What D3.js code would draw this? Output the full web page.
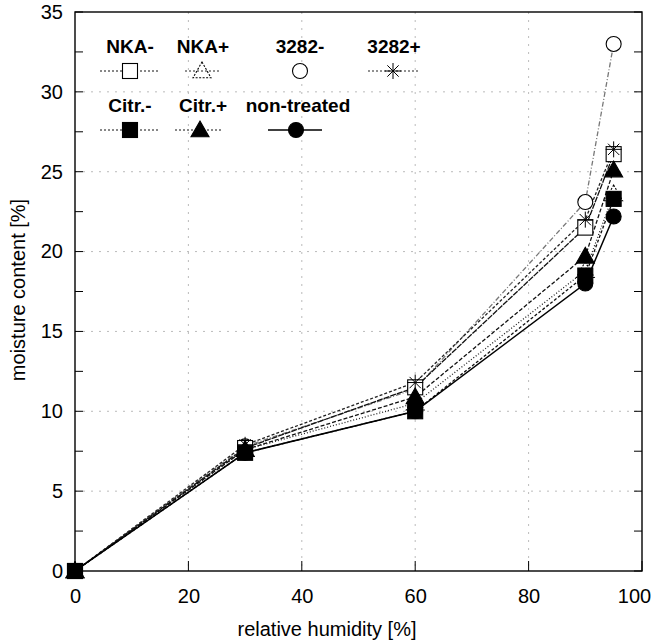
<!DOCTYPE html>
<html><head><meta charset="utf-8">
<script src="https://cdn.jsdelivr.net/npm/d3@7"></script>
<style>body{margin:0;background:#fff;} svg{font-family:"Liberation Sans",Arial,sans-serif;}</style>
</head><body>
<svg id="c" width="654" height="642"></svg>
<script>
const humidity = [0, 30, 60, 90, 95];
const nkaMinus   = [0, 7.7, 11.5, 21.5, 26.1];
const nkaPlus    = [0, 7.6, 10.5, 18.8, 23.6];
const s3282Minus = [0, 7.8, 11.4, 23.1, 33.0];
const s3282Plus  = [0, 7.9, 11.8, 22.0, 26.4];
const citrMinus  = [0, 7.4, 10.0, 18.5, 23.3];
const citrPlus   = [0, 7.6, 10.9, 19.7, 25.1];
const nonTreated = [0, 7.4, 10.0, 18.0, 22.2];
const xTicks = [0, 20, 40, 60, 80, 100];
const yTicks = [0, 5, 10, 15, 20, 25, 30, 35];

const series = [
  {name:"3282-", vals:s3282Minus, sym:"circle", fill:false, dash:"5,2,1,2", color:"#777"},
  {name:"NKA+", vals:nkaPlus, sym:"triangle", fill:false, dash:"1,2", color:"#222"},
  {name:"NKA-", vals:nkaMinus, sym:"square", fill:false, dash:"6,1", color:"#111"},
  {name:"3282+", vals:s3282Plus, sym:"star", fill:false, dash:"3,2", color:"#222"},
  {name:"Citr.-", vals:citrMinus, sym:"square", fill:true, dash:"3,2", color:"#111"},
  {name:"Citr.+", vals:citrPlus, sym:"triangle", fill:true, dash:"4,2", color:"#111"},
  {name:"non-treated", vals:nonTreated, sym:"circle", fill:true, dash:null, color:"#000"}
];

const svg = d3.select("#c");
const L=75, R=642, T=12, B=571;
const x = d3.scaleLinear().domain([0,100]).range([L,R]);
const y = d3.scaleLinear().domain([0,35]).range([B,T]);

// grid
svg.append("g").selectAll("line").data([5,10,15,20,25,30]).join("line")
  .attr("x1",L).attr("x2",R).attr("y1",d=>y(d)).attr("y2",d=>y(d))
  .attr("stroke","#aaa").attr("stroke-width",0.8).attr("stroke-dasharray","2,6");
svg.append("g").selectAll("line").data([20,40,60,80]).join("line")
  .attr("y1",T).attr("y2",B).attr("x1",d=>x(d)).attr("x2",d=>x(d))
  .attr("stroke","#aaa").attr("stroke-width",0.8).attr("stroke-dasharray","2,6");

// axes
const xAxis = d3.axisBottom(x).tickValues(xTicks).tickSize(0).tickPadding(18).tickFormat(d3.format("d"));
const gx = svg.append("g").attr("transform",`translate(0,${B})`).call(xAxis);
gx.select(".domain").remove();
gx.selectAll("text").attr("font-size",20).attr("fill","#000")
  .attr("dx",d=>d===100?-8:0);
const yAxis = d3.axisLeft(y).tickValues(yTicks).tickSize(0).tickPadding(12);
const gy = svg.append("g").attr("transform",`translate(${L},0)`).call(yAxis);
gy.select(".domain").remove();
gy.selectAll("text").attr("font-size",20).attr("fill","#000");

// inner ticks
svg.append("g").selectAll("line").data(xTicks).join("line")
  .attr("x1",d=>x(d)).attr("x2",d=>x(d)).attr("y1",B).attr("y2",B-10).attr("stroke","#000");
svg.append("g").selectAll("line").data(d3.range(0,35.1,2.5)).join("line")
  .attr("y1",d=>y(d)).attr("y2",d=>y(d)).attr("x1",L).attr("x2",L+8).attr("stroke","#000");
svg.append("g").selectAll("line").data(d3.range(0,35.1,2.5)).join("line")
  .attr("y1",d=>y(d)).attr("y2",d=>y(d)).attr("x1",R).attr("x2",R-8).attr("stroke","#000");

svg.append("rect").attr("x",L).attr("y",T).attr("width",R-L).attr("height",B-T)
  .attr("fill","none").attr("stroke","#000").attr("stroke-width",1.4);

// labels
svg.append("text").attr("x",327).attr("y",636).attr("text-anchor","middle")
  .attr("font-size",20).text("relative humidity [%]");
svg.append("text").attr("transform","translate(25,290) rotate(-90)").attr("text-anchor","middle")
  .attr("font-size",20).text("moisture content [%]");

function drawSym(g, s, cx, cy){
  const col = "#000";
  if(s.sym==="circle"){
    g.append("circle").attr("cx",cx).attr("cy",cy).attr("r",7.5)
      .attr("fill",s.fill?col:"#fff").attr("stroke",col).attr("stroke-width",1.1);
  } else if(s.sym==="square"){
    const h = 7.5;
    g.append("rect").attr("x",cx-h).attr("y",cy-h).attr("width",2*h).attr("height",2*h)
      .attr("fill",s.fill?col:"#fff").attr("stroke",col).attr("stroke-width",1.1);
  } else if(s.sym==="triangle"){
    const h=9;
    g.append("path").attr("d",`M${cx},${cy-h}L${cx+h},${cy+h*0.75}L${cx-h},${cy+h*0.75}Z`)
      .attr("fill",s.fill?col:"none").attr("stroke",col).attr("stroke-width",1.1)
      .attr("stroke-dasharray",s.fill?null:"2,1.5");
  } else if(s.sym==="star"){
    const r=8;
    [0,45,90,135].forEach(a=>{
      const rad=a*Math.PI/180;
      g.append("line").attr("x1",cx-r*Math.cos(rad)).attr("y1",cy-r*Math.sin(rad))
        .attr("x2",cx+r*Math.cos(rad)).attr("y2",cy+r*Math.sin(rad))
        .attr("stroke",col).attr("stroke-width",1);
    });
  }
}

const line = d3.line().x(d=>x(d[0])).y(d=>y(d[1]));
const gl = svg.append("g");
series.forEach(s=>{
  const pts = humidity.map((h,i)=>[h,s.vals[i]]);
  gl.append("path").datum(pts).attr("d",line).attr("fill","none")
    .attr("stroke",s.color).attr("stroke-width",s.dash?1.3:1.5)
    .attr("stroke-dasharray",s.dash);
});
const gm = svg.append("g");
series.forEach(s=>{
  humidity.forEach((h,i)=>drawSym(gm,s,x(h),y(s.vals[i])));
});

// legend
const legend = [
  {name:"NKA-", tx:130, cx:130, ty:53, sy:71, x1:100, x2:160},
  {name:"NKA+", tx:203, cx:202, ty:53, sy:71, x1:185, x2:220},
  {name:"3282-", tx:300, cx:300, ty:53, sy:71, x1:300, x2:300},
  {name:"3282+", tx:394, cx:393, ty:53, sy:71, x1:368, x2:420},
  {name:"Citr.-", tx:130, cx:130, ty:112, sy:130, x1:100, x2:160},
  {name:"Citr.+", tx:203, cx:200, ty:112, sy:130, x1:175, x2:222},
  {name:"non-treated", tx:298, cx:296, ty:112, sy:130, x1:268, x2:322}
];
const glg = svg.append("g");
legend.forEach(l=>{
  const s = series.find(d=>d.name===l.name);
  glg.append("text").attr("x",l.tx).attr("y",l.ty).attr("text-anchor","middle")
    .attr("font-size",19).attr("font-weight","bold").text(l.name);
  if(l.x2>l.x1){
    glg.append("line").attr("x1",l.x1).attr("x2",l.x2).attr("y1",l.sy).attr("y2",l.sy)
      .attr("stroke",s.color).attr("stroke-width",s.dash?1:1.4).attr("stroke-dasharray",s.dash?"2,2":null);
  }
  drawSym(glg,s,l.cx,l.sy);
});
</script>
</body></html>
